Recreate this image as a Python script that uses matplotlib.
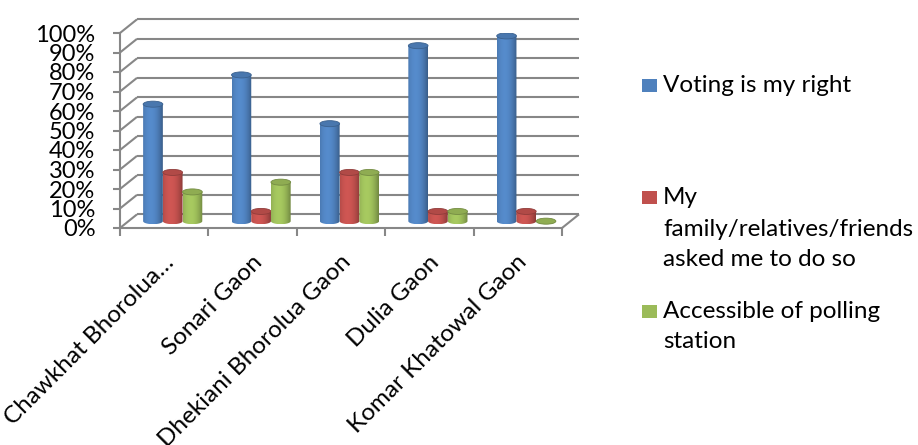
import numpy as np
import matplotlib
matplotlib.use("Agg")
import matplotlib.pyplot as plt
from matplotlib.path import Path
from matplotlib.patches import PathPatch, Ellipse, Rectangle
from matplotlib.colors import to_rgb
from matplotlib.transforms import ScaledTranslation

# ---- data -------------------------------------------------------------
villages = ["Chawkhat Bhorolua…", "Sonari Gaon", "Dhekiani Bhorolua Gaon",
            "Dulia Gaon", "Komar Khatowal Gaon"]
series_names = ["Voting is my right",
                "My\nfamily/relatives/friends\nasked me to do so",
                "Accessible of polling\nstation"]
voting_right = [60, 75, 50, 90, 95]
family_asked = [25, 5, 25, 5, 5]
polling_access = [15, 20, 25, 5, 0]
y_ticks = list(range(0, 101, 10))
series_colors = ["#4F81BD", "#C0504D", "#9BBB59"]

series_values = [voting_right, family_asked, polling_access]

plt.rcParams["font.family"] = ["Lato", "DejaVu Sans"]

W, H = 918, 445
fig = plt.figure(figsize=(W / 100, H / 100), dpi=100)
ax = fig.add_axes([120 / W, (H - 228) / H, 442 / W, 195 / H])

n = len(villages)
DX = 17 / 88.4      # depth offset along x (category units)
DY = 7.0            # depth offset along y (percent units)
GRID = "#878787"

# back wall, side wall and floor lines
grid_kw = dict(color=GRID, lw=1.5, clip_on=False, zorder=1, solid_capstyle="butt")
for v in y_ticks:
    ax.plot([-0.5 + DX, n - 0.5 + DX], [v + DY, v + DY], **grid_kw)
    ax.plot([-0.5, -0.5 + DX], [v, v + DY], **grid_kw)
ax.plot([n - 0.5, n - 0.5 + DX], [0, DY], **grid_kw)


def shade_strip(color, npts=64):
    t = np.linspace(0, 1, npts)
    g = np.clip(1 - ((t - 0.38) / 0.62) ** 2, 0, 1)
    base = np.array(to_rgb(color))
    f = 0.72 + 0.36 * g
    rgb = np.clip(base[None, :] * f[:, None], 0, 1)
    return rgb[None, :, :]


def cylinder(ax, xc, value, width, color, z):
    eh = 3.1                     # ellipse height in percent units
    y0 = DY / 2
    y1 = DY / 2 + value
    a, b = width / 2, eh / 2
    theta = np.linspace(np.pi, 2 * np.pi, 40)
    arc = np.column_stack([xc + a * np.cos(theta), y0 + b * np.sin(theta)])
    verts = np.vstack([[xc - a, y1], arc, [xc + a, y1], [xc - a, y1]])
    codes = [Path.MOVETO] + [Path.LINETO] * (len(verts) - 2) + [Path.CLOSEPOLY]
    body = PathPatch(Path(verts, codes), facecolor="none", edgecolor="none",
                     transform=ax.transData, zorder=z)
    ax.add_patch(body)
    im = ax.imshow(shade_strip(color), extent=(xc - a, xc + a, y0 - b, y1),
                   aspect="auto", interpolation="bilinear", zorder=z,
                   origin="lower")
    im.set_clip_path(body)
    base = np.array(to_rgb(color))
    top = Ellipse((xc, y1), width, eh, facecolor=np.clip(base * 0.92, 0, 1),
                  edgecolor=np.clip(base * 0.75, 0, 1), lw=0.6, zorder=z + 0.5)
    ax.add_patch(top)


bar_w = 0.223
for i in range(n):
    gc = i + DX / 2
    for s, vals in enumerate(series_values):
        xc = gc + (s - 1) * bar_w
        cylinder(ax, xc, vals[i], bar_w, series_colors[s], z=3 + i * 3 + s * 0.8)

ax.set_xlim(-0.5, n - 0.5)
ax.set_ylim(0, 100)
ax.set_aspect("auto")

# axes styling
for side in ("top", "right"):
    ax.spines[side].set_visible(False)
for side in ("left", "bottom"):
    ax.spines[side].set_color(GRID)
    ax.spines[side].set_linewidth(1.5)
    ax.spines[side].set_zorder(2)

ax.set_yticks(y_ticks, [f"{v}%" for v in y_ticks])
ax.tick_params(axis="y", direction="out", length=5.2, width=1.5, color=GRID,
               pad=12.5, labelsize=17)

ax.set_xticks(range(n), villages)
ax.set_xticks(np.arange(-0.5, n, 1.0), minor=True)
ax.tick_params(axis="x", which="major", length=0, pad=2, labelsize=17.5)
ax.tick_params(axis="x", which="minor", direction="out", length=5.8, width=1.5,
               color=GRID)
shift = ScaledTranslation(6 / 100, -28 / 100, fig.dpi_scale_trans)
for lbl in ax.get_xticklabels():
    lbl.set_rotation(45)
    lbl.set_ha("right")
    lbl.set_va("center")
    lbl.set_rotation_mode("anchor")
    lbl.set_transform(lbl.get_transform() + shift)

# legend
legend_y = [85, 198, 311]
for name, col, yc in zip(series_names, series_colors, legend_y):
    fig.patches.append(Rectangle((642 / W, (H - yc - 6.5) / H), 15 / W, 13 / H,
                                 facecolor=col, edgecolor="none",
                                 transform=fig.transFigure))
    for k, line in enumerate(name.split("\n")):
        fig.text(663 / W, (H - yc - k * 31) / H, line, fontsize=17.5,
                 ha="left", va="center")

fig.savefig("out.png", dpi=100)
